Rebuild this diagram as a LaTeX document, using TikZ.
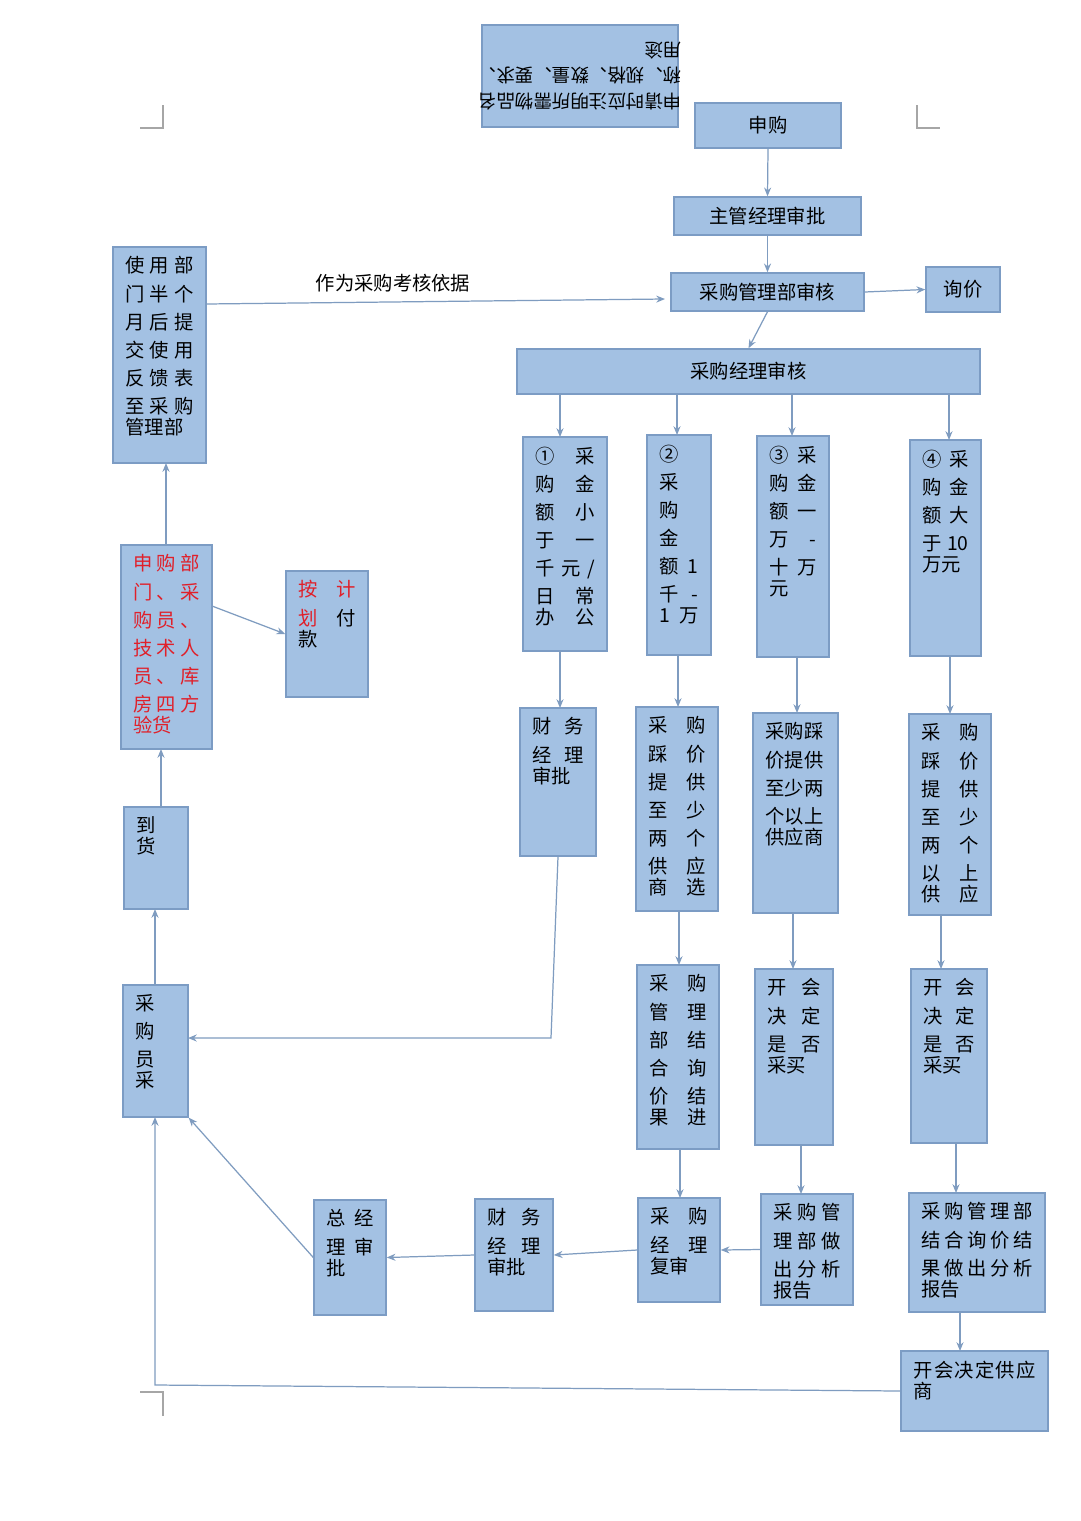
\documentclass[tikz,border=0pt]{standalone}
\usepackage{fontspec}
\setmainfont{Noto Sans CJK SC}
\usetikzlibrary{arrows.meta}
\definecolor{bfill}{HTML}{A3C1E3}
\definecolor{bdraw}{HTML}{7C9CC4}
\definecolor{lcol}{HTML}{7F9CC0}
\definecolor{rtext}{HTML}{E0202A}
\tikzset{
  box/.style={draw=bdraw,fill=bfill,line width=0.8pt,rectangle,inner sep=0pt},
  conn/.style={draw=lcol,line width=0.7pt,-{Stealth[length=5pt,width=4pt]}},
  cornermark/.style={draw=gray!70,line width=0.6pt}
}
\newcommand\bx[6]{%
  \node[box,minimum width={(#4-#2)*0.02cm},minimum height={(#5-#3)*0.02cm}] (#1) at ({(#2+#4)/2},{(#3+#5)/2}) {};
  \node[anchor=north west,inner sep=0pt,align=left,text width={(#4-#2)*0.02cm-0.5cm}] at ([xshift=0.26cm,yshift=-0.2cm]#1.north west) {\fontsize{11}{16}\selectfont #6};}
\newcommand\cb[6]{%
  \node[box,minimum width={(#4-#2)*0.02cm},minimum height={(#5-#3)*0.02cm},font=\fontsize{11}{16}\selectfont] (#1) at ({(#2+#4)/2},{(#3+#5)/2}) {#6};}
\begin{document}
\begin{tikzpicture}[x=0.02cm,y=-0.02cm]
\fill[white] (0,0) rectangle (1080,1521);
\useasboundingbox (0,0) rectangle (1080,1521);
% corner marks
\draw[cornermark] (140,128) -- (163,128) -- (163,105);
\draw[cornermark] (917,105) -- (917,128) -- (940,128);
\draw[cornermark] (140,1392) -- (163,1392) -- (163,1416);
% top rotated box
\node[box,minimum width={196*0.02cm},minimum height={102*0.02cm}] (top) at (580,76) {};
\node[rotate=180,align=left,font=\fontsize{10.5}{14.5}\selectfont] at (580,76) {申请时应注明所需物品名\\称、规格、数量、要求、\\用途};
% main chain
\cb{sg}{695}{103}{841}{148}{申购}
\cb{zg}{674}{197}{861}{235}{主管经理审批}
\cb{gl}{671}{273}{864}{311}{采购管理部审核}
\cb{xj}{926}{267}{1000}{312}{询价}
\cb{jl}{517}{349}{980}{394}{采购经理审核}
\bx{sy}{113}{247}{206}{463}{使\hfill 用\hfill 部\\门\hfill 半\hfill 个\\月\hfill 后\hfill 提\\交\hfill 使\hfill 用\\反\hfill 馈\hfill 表\\至\hfill 采\hfill 购\\管理部}
% four columns
\bx{b1}{523}{437}{607}{651}{①\hfill 采\\购\hfill 金\\额\hfill 小\\于\hfill 一\\千\hfill 元\hfill /\\日\hfill 常\\办\hfill 公}
\bx{b2}{647}{435}{711}{655}{②\\采\\购\\金\\额\hfill 1\\千\hfill -\\1\hfill 万}
\bx{b3}{757}{436}{829}{657}{③\hfill 采\\购\hfill 金\\额\hfill 一\\万\hfill -\\十\hfill 万\\元}
\bx{b4}{910}{440}{981}{656}{④\hfill 采\\购\hfill 金\\额\hfill 大\\于\hfill 10\\万元}
\bx{cw1}{520}{708}{596}{856}{财\hfill 务\\经\hfill 理\\审批}
\bx{c2}{636}{707}{718}{911}{采\hfill 购\\踩\hfill 价\\提\hfill 供\\至\hfill 少\\两\hfill 个\\供\hfill 应\\商\hfill 选}
\bx{c3}{753}{713}{838}{913}{采购踩\\价提供\\至少两\\个以上\\供应商}
\bx{c4}{909}{714}{991}{915}{采\hfill 购\\踩\hfill 价\\提\hfill 供\\至\hfill 少\\两\hfill 个\\以\hfill 上\\供\hfill 应}
\bx{cg}{637}{965}{719}{1149}{采\hfill 购\\管\hfill 理\\部\hfill 结\\合\hfill 询\\价\hfill 结\\果\hfill 进}
\bx{kh3}{755}{969}{833}{1145}{开\hfill 会\\决\hfill 定\\是\hfill 否\\采买}
\bx{kh4}{911}{969}{987}{1143}{开\hfill 会\\决\hfill 定\\是\hfill 否\\采买}
\bx{fs}{638}{1198}{720}{1302}{采\hfill 购\\经\hfill 理\\复审}
\bx{fx1}{761}{1194}{853}{1305}{采\hfill 购\hfill 管\\理\hfill 部\hfill 做\\出\hfill 分\hfill 析\\报告}
\bx{fx2}{909}{1193}{1045}{1312}{采\hfill 购\hfill 管\hfill 理\hfill 部\\结\hfill 合\hfill 询\hfill 价\hfill 结\\果\hfill 做\hfill 出\hfill 分\hfill 析\\报告}
\bx{gys}{901}{1351}{1048}{1431}{开\hfill 会\hfill 决\hfill 定\hfill 供\hfill 应\\商}
\bx{cw2}{475}{1199}{553}{1311}{财\hfill 务\\经\hfill 理\\审批}
\bx{zj}{314}{1200}{386}{1315}{总\hfill 经\\理\hfill 审\\批}
% left column
\bx{ys}{121}{545}{212}{749}{\color{rtext}申\hfill 购\hfill 部\\门\hfill 、\hfill 采\\购\hfill 员\hfill 、\\技\hfill 术\hfill 人\\员\hfill 、\hfill 库\\房\hfill 四\hfill 方\\验货}
\bx{fk}{286}{571}{368}{697}{{\color{rtext}按}\hfill {\color{rtext}计}\\{\color{rtext}划}\hfill 付\\款}
\bx{dh}{124}{807}{188}{909}{到\\货}
\bx{cy}{123}{985}{188}{1117}{采\\购\\员\\采}
% connectors
\draw[conn] (sg.south) -- (zg.north);
\draw[conn] (zg.south) -- (gl.north);
\draw[conn] (gl.east) -- (xj.west);
\draw[conn] (gl.south) -- (jl.north);
\draw[conn] (560,394) -- (560,437);
\draw[conn] (677,394) -- (677,435);
\draw[conn] (792,394) -- (792,436);
\draw[conn] (949,394) -- (949,440);
\draw[conn] (560,651) -- (560,708);
\draw[conn] (678,655) -- (678,707);
\draw[conn] (797,657) -- (797,713);
\draw[conn] (950,656) -- (950,714);
\draw[conn] (679,911) -- (679,965);
\draw[conn] (793,913) -- (793,969);
\draw[conn] (941,915) -- (941,969);
\draw[conn] (680,1149) -- (680,1198);
\draw[conn] (801,1145) -- (801,1194);
\draw[conn] (956,1143) -- (956,1193);
\draw[conn] (960,1312) -- (960,1351);
\draw[conn] (fx1.west) -- (fs.east);
\draw[conn] (fs.west) -- (cw2.east);
\draw[conn] (cw2.west) -- (zj.east);
\draw[conn] (zj.west) -- (cy.south east);
\draw[conn] (cw1.south) -- (551,1038) -- (188,1038);
\draw[conn] (gys.west) -- (155,1385) -- (155,1117);
\draw[conn] (155,985) -- (155,909);
\draw[conn] (161,807) -- (161,749);
\draw[conn] (166,545) -- (166,463);
\draw[conn] (212,606) -- (fk.west);
\draw[conn] (206,304) -- (665,299);
\node[font=\fontsize{11}{14}\selectfont] at (393,283) {作为采购考核依据};
\end{tikzpicture}
\end{document}
